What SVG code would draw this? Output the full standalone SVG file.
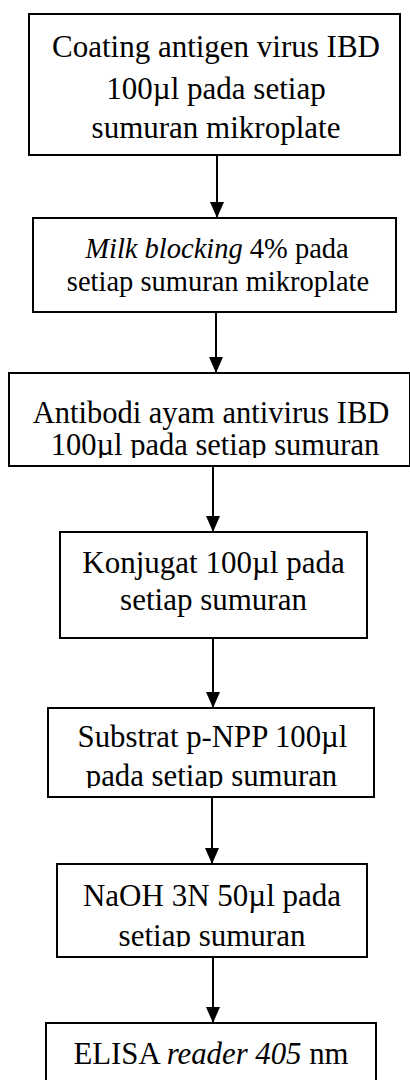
<svg xmlns="http://www.w3.org/2000/svg" width="410" height="1080" viewBox="0 0 410 1080">
<style>
.box{fill:#fff;stroke:#000;stroke-width:2}
.t{font-family:"Liberation Serif","Times New Roman",serif;fill:#000;text-anchor:middle}
.i{font-style:italic}
.conn{stroke:#000;stroke-width:2;fill:none;marker-end:url(#ah)}
</style>
<defs>
<marker id="ah" markerUnits="userSpaceOnUse" markerWidth="16" markerHeight="14" viewBox="0 0 16 14" refX="16" refY="7" orient="auto">
<path d="M0,0 L16,7 L0,14 Z" fill="#000"/>
</marker>
<clipPath id="c3"><rect x="0" y="370" width="410" height="88"/></clipPath>
<clipPath id="c5"><rect x="0" y="705" width="410" height="83"/></clipPath>
<clipPath id="c6"><rect x="0" y="860" width="410" height="87"/></clipPath>
</defs>
<rect width="410" height="1080" fill="#fff"/>
<g id="connectors">
<line class="conn" x1="217" y1="155" x2="217" y2="218"/>
<line class="conn" x1="216" y1="312" x2="216" y2="373"/>
<line class="conn" x1="213" y1="466" x2="213" y2="532"/>
<line class="conn" x1="213" y1="638" x2="213" y2="708"/>
<line class="conn" x1="212" y1="797" x2="212" y2="864"/>
<line class="conn" x1="213" y1="957" x2="213" y2="1023"/>
</g>
<g id="n1">
<rect class="box" x="29" y="14" width="371" height="141"/>
<text class="t" font-size="31"><tspan x="216" y="57">Coating antigen virus IBD</tspan><tspan x="216" y="99">100µl pada setiap</tspan><tspan x="216" y="138">sumuran mikroplate</tspan></text>
</g>
<g id="n2">
<rect class="box" x="33" y="218" width="363" height="94"/>
<text class="t" font-size="28.5"><tspan x="217" y="258"><tspan class="i">Milk blocking</tspan> 4% pada</tspan><tspan x="218" y="291">setiap sumuran mikroplate</tspan></text>
</g>
<g id="n3">
<rect class="box" x="9" y="373" width="401" height="93"/>
<text class="t" font-size="30.5" clip-path="url(#c3)"><tspan x="211" y="423">Antibodi ayam antivirus IBD</tspan><tspan x="215" y="455">100µl pada setiap sumuran</tspan></text>
</g>
<g id="n4">
<rect class="box" x="60" y="532" width="307" height="106"/>
<text class="t" font-size="31"><tspan x="213.5" y="573">Konjugat 100µl pada</tspan><tspan x="213.5" y="610">setiap sumuran</tspan></text>
</g>
<g id="n5">
<rect class="box" x="48" y="708" width="326" height="89"/>
<text class="t" font-size="30.8" clip-path="url(#c5)"><tspan x="212.5" y="747">Substrat p-NPP 100µl</tspan><tspan x="211.5" y="786">pada setiap sumuran</tspan></text>
</g>
<g id="n6">
<rect class="box" x="57" y="864" width="310" height="93"/>
<text class="t" font-size="31" clip-path="url(#c6)"><tspan x="212" y="906">NaOH 3N 50µl pada</tspan><tspan x="212" y="946">setiap sumuran</tspan></text>
</g>
<g id="n7">
<rect class="box" x="46" y="1023" width="330" height="70"/>
<text class="t" font-size="30.8"><tspan x="211" y="1064">ELISA <tspan class="i">reader 405</tspan> nm</tspan></text>
</g>
</svg>
